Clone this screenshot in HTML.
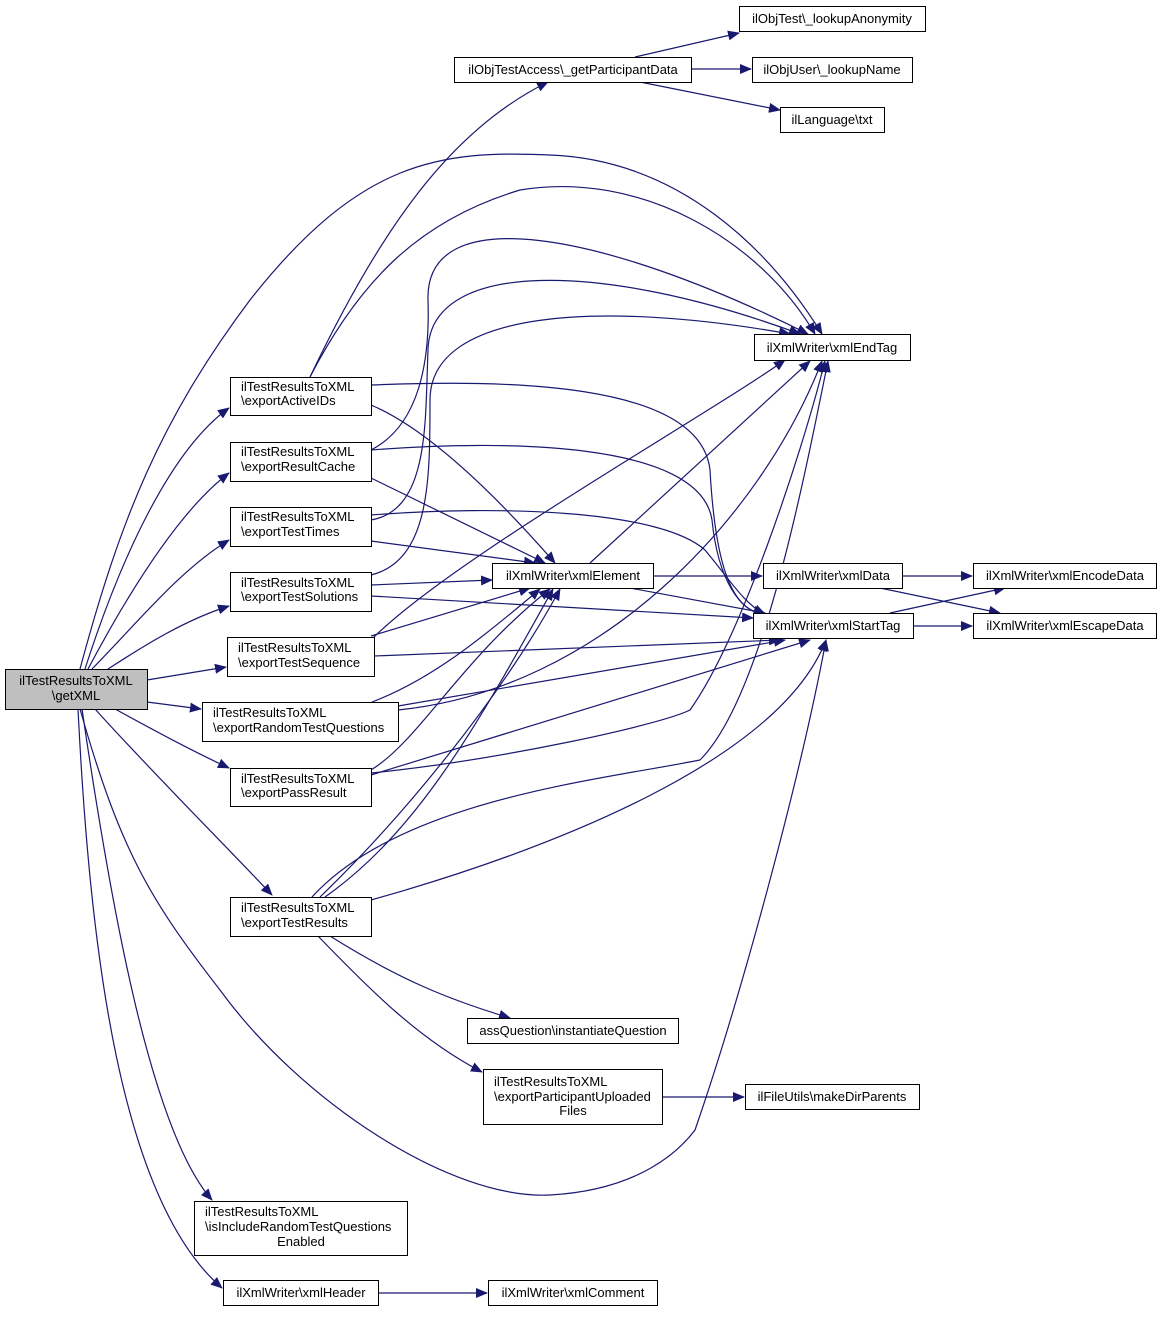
<!DOCTYPE html>
<html><head><meta charset="utf-8"><style>
html,body{margin:0;padding:0;background:#fff}
svg text{font-family:"Liberation Sans",Helvetica,sans-serif;font-size:13px;fill:#000}
</style></head><body>
<svg width="1161" height="1312" viewBox="0 0 1161 1312" xmlns="http://www.w3.org/2000/svg">
<defs><marker id="a" markerWidth="12" markerHeight="10" refX="11" refY="5" orient="auto" markerUnits="userSpaceOnUse"><path d="M0,0 L12,5 L0,10 z" fill="#191970"/></marker></defs>
<g fill="none" stroke="#191970" stroke-width="1.2" marker-end="url(#a)">
<path d="M85,669 C120,560 170,450 229,408"/>
<path d="M88,669 C130,590 180,510 229,473"/>
<path d="M92,669 C140,620 180,570 229,540"/>
<path d="M108,669 C145,645 185,620 229,606"/>
<path d="M147,680 L226,667"/>
<path d="M147,702 L201,709"/>
<path d="M115,709 C150,728 190,750 229,768"/>
<path d="M95,709 C150,770 220,840 272,895"/>
<path d="M82,709 C110,900 150,1130 212,1200"/>
<path d="M78,709 C90,950 120,1200 222,1288"/>
<path d="M80,669 C120,520 160,420 250,300 C360,160 440,150 550,155 C680,160 770,250 822,334"/>
<path d="M80,709 C120,850 150,900 220,990 C300,1100 450,1200 550,1195 C640,1190 680,1150 695,1130 C740,1000 800,780 826,640"/>
<path d="M310,377 C380,230 450,130 548,82"/>
<path d="M310,377 C360,280 420,220 520,190 C640,170 760,240 815,334"/>
<path d="M371,385 C500,380 700,380 710,470 C715,560 730,612 765,614"/>
<path d="M371,405 C430,430 500,500 555,563"/>
<path d="M371,450 C420,425 430,360 428,300 C425,200 600,230 808,334"/>
<path d="M371,450 C500,440 700,440 712,520 C718,580 740,612 765,615"/>
<path d="M371,478 L545,563"/>
<path d="M371,520 C430,510 425,420 428,350 C430,260 600,260 800,334"/>
<path d="M371,515 C500,505 660,510 705,550 C730,580 745,605 765,614"/>
<path d="M371,541 L535,563"/>
<path d="M371,575 C430,560 430,480 430,400 C430,310 600,300 790,334"/>
<path d="M371,585 L492,580"/>
<path d="M371,596 L753,618"/>
<path d="M371,636 L530,588"/>
<path d="M371,640 C450,560 700,420 785,360"/>
<path d="M374,656 L780,640"/>
<path d="M372,702 C430,680 480,640 540,589"/>
<path d="M398,710 C600,690 760,520 822,361"/>
<path d="M398,706 L785,640"/>
<path d="M371,770 C420,740 460,660 550,589"/>
<path d="M371,773 C500,760 660,725 690,710 C740,640 800,460 825,361"/>
<path d="M371,775 L810,640"/>
<path d="M320,897 C400,820 500,700 560,589"/>
<path d="M325,897 C420,830 480,720 553,589"/>
<path d="M312,897 C400,800 600,780 700,760 C760,700 800,500 828,361"/>
<path d="M371,900 C550,850 780,760 826,640"/>
<path d="M330,936 C400,980 450,1000 510,1018"/>
<path d="M318,936 C370,990 420,1040 482,1072"/>
<path d="M662,1097 L744,1097"/>
<path d="M378,1293 L487,1293"/>
<path d="M635,57 L739,33"/>
<path d="M691,69 L751,69"/>
<path d="M640,82 L780,110"/>
<path d="M653,576 L762,576"/>
<path d="M630,588 L765,613"/>
<path d="M590,563 L810,361"/>
<path d="M902,576 L972,576"/>
<path d="M880,588 L1000,613"/>
<path d="M890,613 L1005,588"/>
<path d="M913,626 L972,626"/>
</g>
<g stroke="#000" stroke-width="1" fill="#fff">
<rect x="5.5" y="669.5" width="142" height="40" fill="#bfbfbf"/>
<rect x="230.5" y="377.5" width="141" height="38"/>
<rect x="230.5" y="442.5" width="141" height="39"/>
<rect x="230.5" y="507.5" width="141" height="39"/>
<rect x="230.5" y="572.5" width="141" height="39"/>
<rect x="227.5" y="637.5" width="147" height="39"/>
<rect x="202.5" y="702.5" width="196" height="39"/>
<rect x="230.5" y="768.5" width="141" height="38"/>
<rect x="230.5" y="897.5" width="141" height="39"/>
<rect x="194.5" y="1201.5" width="213" height="54"/>
<rect x="223.5" y="1280.5" width="155" height="25"/>
<rect x="454.5" y="57.5" width="237" height="25"/>
<rect x="739.5" y="6.5" width="186" height="25"/>
<rect x="752.5" y="57.5" width="160" height="25"/>
<rect x="780.5" y="107.5" width="104" height="25"/>
<rect x="754.5" y="334.5" width="156" height="26"/>
<rect x="492.5" y="563.5" width="161" height="25"/>
<rect x="763.5" y="563.5" width="139" height="25"/>
<rect x="753.5" y="613.5" width="160" height="25"/>
<rect x="973.5" y="563.5" width="183" height="25"/>
<rect x="973.5" y="613.5" width="183" height="25"/>
<rect x="467.5" y="1018.5" width="211" height="25"/>
<rect x="483.5" y="1069.5" width="179" height="55"/>
<rect x="745.5" y="1084.5" width="174" height="25"/>
<rect x="488.5" y="1280.5" width="169" height="25"/>
</g>
<g>
<text x="76" y="685" text-anchor="middle">ilTestResultsToXML</text><text x="76" y="700" text-anchor="middle">\getXML</text>
<text x="241" y="391">ilTestResultsToXML</text><text x="241" y="405">\exportActiveIDs</text>
<text x="241" y="456">ilTestResultsToXML</text><text x="241" y="471">\exportResultCache</text>
<text x="241" y="521">ilTestResultsToXML</text><text x="241" y="536">\exportTestTimes</text>
<text x="241" y="587">ilTestResultsToXML</text><text x="241" y="601">\exportTestSolutions</text>
<text x="238" y="652">ilTestResultsToXML</text><text x="238" y="667">\exportTestSequence</text>
<text x="213" y="717">ilTestResultsToXML</text><text x="213" y="732">\exportRandomTestQuestions</text>
<text x="241" y="783">ilTestResultsToXML</text><text x="241" y="797">\exportPassResult</text>
<text x="241" y="912">ilTestResultsToXML</text><text x="241" y="927">\exportTestResults</text>
<text x="205" y="1216">ilTestResultsToXML</text><text x="205" y="1231">\isIncludeRandomTestQuestions</text><text x="301" y="1246" text-anchor="middle">Enabled</text>
<text x="301" y="1297" text-anchor="middle">ilXmlWriter\xmlHeader</text>
<text x="573" y="74" text-anchor="middle">ilObjTestAccess\_getParticipantData</text>
<text x="832" y="23" text-anchor="middle">ilObjTest\_lookupAnonymity</text>
<text x="832" y="74" text-anchor="middle">ilObjUser\_lookupName</text>
<text x="832" y="124" text-anchor="middle">ilLanguage\txt</text>
<text x="832" y="352" text-anchor="middle">ilXmlWriter\xmlEndTag</text>
<text x="573" y="580" text-anchor="middle">ilXmlWriter\xmlElement</text>
<text x="833" y="580" text-anchor="middle">ilXmlWriter\xmlData</text>
<text x="833" y="630" text-anchor="middle">ilXmlWriter\xmlStartTag</text>
<text x="1065" y="580" text-anchor="middle">ilXmlWriter\xmlEncodeData</text>
<text x="1065" y="630" text-anchor="middle">ilXmlWriter\xmlEscapeData</text>
<text x="573" y="1035" text-anchor="middle">assQuestion\instantiateQuestion</text>
<text x="494" y="1086">ilTestResultsToXML</text><text x="494" y="1101">\exportParticipantUploaded</text><text x="573" y="1115" text-anchor="middle">Files</text>
<text x="832" y="1101" text-anchor="middle">ilFileUtils\makeDirParents</text>
<text x="573" y="1297" text-anchor="middle">ilXmlWriter\xmlComment</text>
</g>
</svg>
</body></html>
